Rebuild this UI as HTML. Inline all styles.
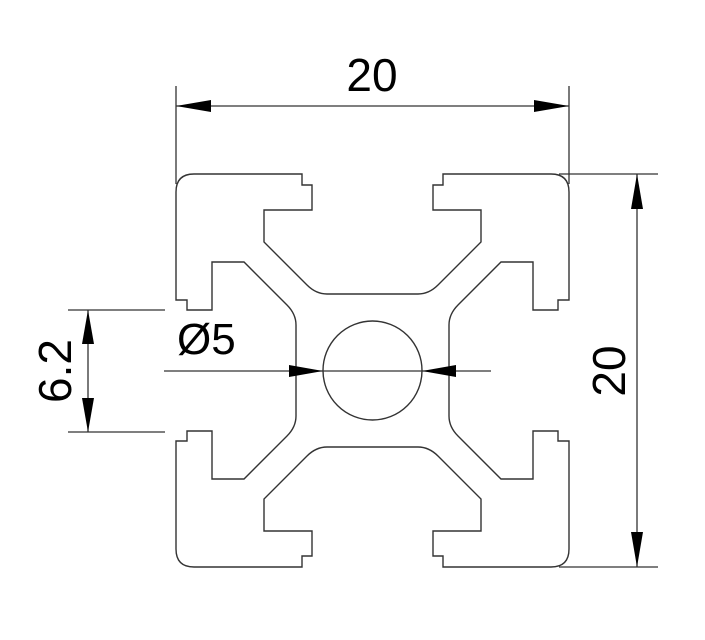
<!DOCTYPE html>
<html><head><meta charset="utf-8"><style>
html,body{margin:0;padding:0;background:#fff;}
svg{display:block;}
text{font-family:"Liberation Sans",Arial,sans-serif;fill:#000;}
</style></head><body>
<svg width="705" height="640" viewBox="0 0 705 640" xmlns="http://www.w3.org/2000/svg">
<defs>
<path id="q" fill="none" stroke="#333" stroke-width="1.4" d="M0,-76.5 L-45.5,-76.5 Q-56.5,-76.5 -65.5,-85.5 L-108.5,-128.5 L-108.5,-160.5 L-60.5,-160.5 L-60.5,-185.5 L-70.5,-185.5 L-70.5,-196.5 L-178.5,-196.5 Q-196.5,-196.5 -196.5,-178.5 L-196.5,-70.5 L-185.5,-70.5 L-185.5,-60.5 L-160.5,-60.5 L-160.5,-108.5 L-128.5,-108.5 L-85.5,-65.5 Q-76.5,-56.5 -76.5,-45.5 L-76.5,0"/>
</defs>
<g transform="translate(372.5,370.5)">
<use href="#q"/>
<use href="#q" transform="rotate(90)"/>
<use href="#q" transform="rotate(180)"/>
<use href="#q" transform="rotate(270)"/>
<circle cx="0" cy="0" r="49.5" fill="none" stroke="#333" stroke-width="1.4"/>
</g>
<g stroke="#333" stroke-width="1.3" fill="none">
<!-- top dim -->
<line x1="176" y1="86" x2="176" y2="184"/>
<line x1="569" y1="86" x2="569" y2="184"/>
<line x1="176" y1="106" x2="569" y2="106"/>
<!-- right dim -->
<line x1="559" y1="174" x2="658" y2="174"/>
<line x1="559" y1="567" x2="658" y2="567"/>
<line x1="637" y1="174" x2="637" y2="567"/>
<!-- 6.2 dim -->
<line x1="68" y1="310" x2="165" y2="310"/>
<line x1="68" y1="432" x2="165" y2="432"/>
<line x1="88" y1="310" x2="88" y2="432"/>
<!-- dia -->
<line x1="164" y1="371" x2="491" y2="371"/>
</g>
<g fill="#000">
<polygon points="176,106 211,100 211,112"/>
<polygon points="569,106 534,100 534,112"/>
<polygon points="637,174 631,209 643,209"/>
<polygon points="637,567 631,532 643,532"/>
<polygon points="88,310 82,344 94,344"/>
<polygon points="88,432 82,398 94,398"/>
<polygon points="323,371 289,365 289,377"/>
<polygon points="422,371 456,365 456,377"/>
</g>
<text x="372" y="91" font-size="46" text-anchor="middle">20</text>
<text transform="translate(625,371) rotate(-90)" font-size="46" text-anchor="middle">20</text>
<text transform="translate(71,371) rotate(-90)" font-size="46" text-anchor="middle">6.2</text>
<text x="177" y="354" font-size="44">Ø5</text>
</svg>
</body></html>
